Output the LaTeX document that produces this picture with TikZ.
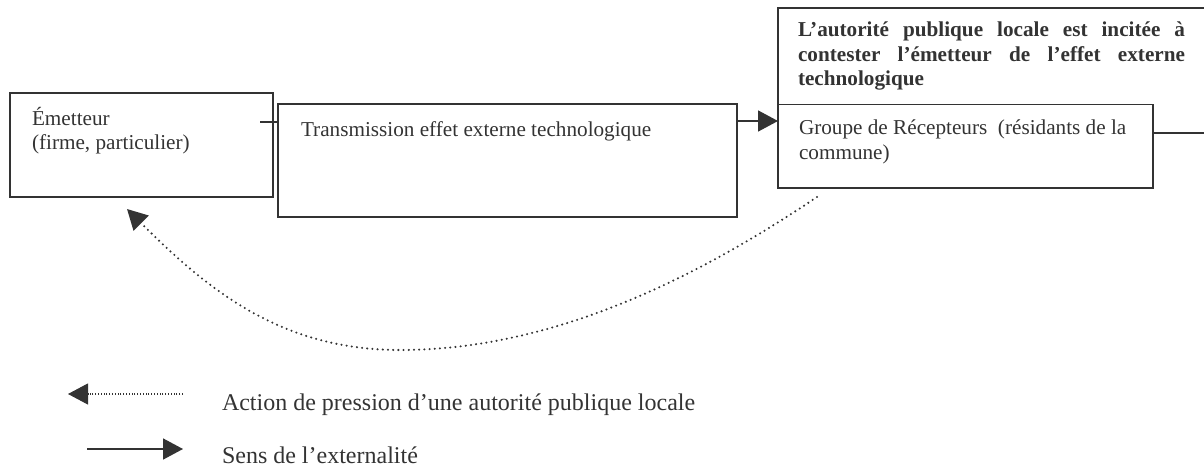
\documentclass[tikz,border=0pt]{standalone}
\usepackage{fontspec}
\setmainfont{Liberation Serif}
\usetikzlibrary{arrows.meta}
\definecolor{ink}{RGB}{51,51,51}
\begin{document}
\begin{tikzpicture}[x=1pt,y=-1pt,
  box/.style={draw=ink, line width=1.6pt, inner sep=0pt, outer sep=0pt, anchor=north west},
  txt/.style={inner sep=0pt, outer sep=0pt, anchor=base west, text=ink, font=\fontsize{21.2}{24.5}\selectfont},
  legtxt/.style={inner sep=0pt, outer sep=0pt, anchor=base west, text=ink, font=\fontsize{24}{28}\selectfont},
  conn/.style={draw=ink, line width=1.6pt},
  tri/.style={-{Triangle[length=20pt,width=21pt]}},
  dotline/.style={draw=ink, line width=2.3pt, dash pattern=on 0pt off 5.2pt, line cap=round},
  finedots/.style={draw=ink, line width=1.1pt, dash pattern=on 1pt off 1.8pt}]
\useasboundingbox (0,0) rectangle (1204,468);

% boxes
\node[box, minimum width=263pt, minimum height=104pt] (emit) at (10,93) {};
\node[box, minimum width=459pt, minimum height=113pt] (trans) at (278,104) {};
\node[box, minimum width=375pt, minimum height=83.5pt] (grp) at (778,104.5) {};
\node[inner sep=0pt, outer sep=0pt, anchor=north west, minimum width=436pt, minimum height=96.5pt] (auth) at (778,8) {};
\draw[conn] (auth.north east) -- (auth.north west) -- (auth.south west);

% texts
\node[txt] (emitT) at (32,125) {\parbox[t]{230pt}{\raggedright Émetteur\\(firme, particulier)}};
\node[txt] (transT) at (301,136) {Transmission effet externe technologique};
\node[txt] (grpT) at (799,135) {\parbox[t]{345pt}{\raggedright Groupe de Récepteurs~ (résidants de la\\commune)}};
\node[txt] (authT) at (798,37) {\parbox[t]{387pt}{\bfseries L’autorité publique locale est incitée à\linebreak contester l’émetteur de l’effet externe\linebreak technologique}};

% connectors
\coordinate (e1) at (260,122);
\draw[conn] (e1) -- (e1 -| trans.west);
\coordinate (a1) at (737,121);
\draw[conn, tri] (a1 -| trans.east) -- (a1 -| grp.west);
\coordinate (r1) at (1204,133);
\draw[conn] (r1 -| grp.east) -- (r1);

% pressure (dotted) connector
\coordinate (dstart) at ([shift={(39,9)}]grp.south west);
\coordinate (dend) at ([shift={(117,12)}]emit.south west);
\coordinate (dmid) at (400,350);
\draw[dotline, tri] (dstart) .. controls (692,281) and (550,350) .. (dmid)
   .. controls (280,350) and (207,289) .. (dend);

% legend
\coordinate (l1s) at (183,394);
\coordinate (l1e) at (68,394);
\draw[finedots, tri] (l1s) -- (l1e);
\coordinate (l2s) at (87,449);
\coordinate (l2e) at (183,449);
\draw[conn, tri] (l2s) -- (l2e);
\node[legtxt] (legA) at (222,410) {Action de pression d’une autorité publique locale};
\node[legtxt] (legS) at (222,463) {Sens de l’externalité};
\end{tikzpicture}
\end{document}
